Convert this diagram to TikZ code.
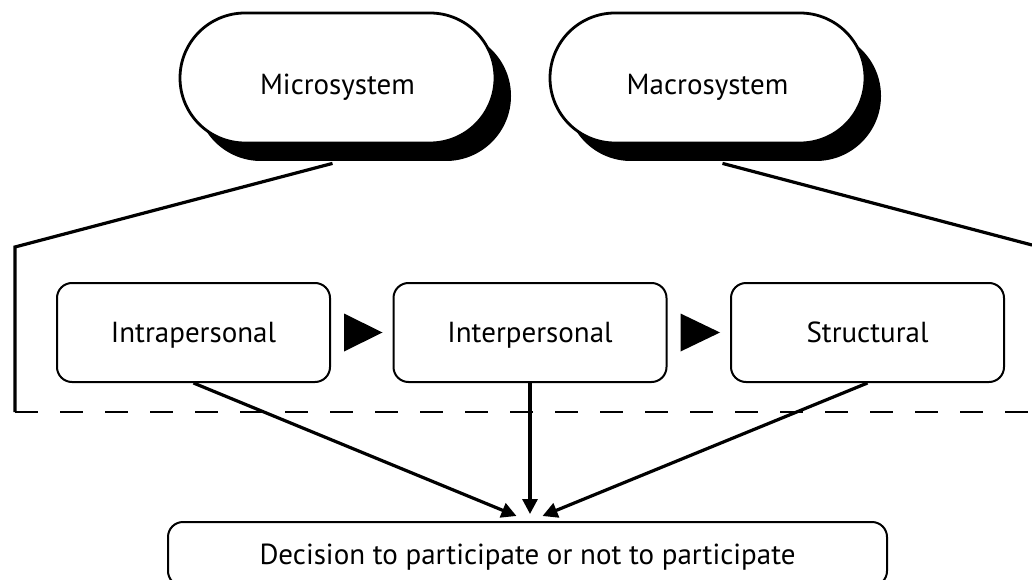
\documentclass[tikz,border=0pt]{standalone}
\usepackage{fontspec}
\setmainfont{PT Sans}
\usepackage{tikz}
\usetikzlibrary{arrows.meta,shadows,calc}

\tikzset{
  sysbox/.style={draw, line width=2.8pt, fill=white, rounded corners=65pt,
    minimum width=315pt, minimum height=130pt, text height=34pt, text depth=0pt,
    drop shadow={shadow xshift=16pt, shadow yshift=-18pt, fill=black, opacity=1}},
  levelbox/.style={draw, line width=2pt, rounded corners=15pt,
    minimum width=273pt, minimum height=99pt, text height=20pt, text depth=0pt},
  flow/.style={line width=3.2pt, -{Triangle[length=15pt,width=15pt]}},
  link/.style={line width=3.2pt, line join=miter}
}

\begin{document}
\begin{tikzpicture}[x=1pt, y=-1pt, font=\fontsize{29}{34}\selectfont]
			\useasboundingbox (0,0) rectangle (1032,580);
			% outer systems
			\node[sysbox] (micro) at (337.5,78) {Microsystem};
			\node[sysbox] (macro) at (707.5,78) {Macrosystem};
			% the three levels
			\node[levelbox] (intra) at (193.5,332.5) {Intrapersonal};
			\node[levelbox] (inter) at (530,332.5) {Interpersonal};
			\node[levelbox] (struct) at (867.5,332.5) {Structural};
			\node[levelbox, minimum width=719pt, minimum height=64pt] (dec) at (527.5,554)
			  {Decision to participate or not to participate};
			% frame
			\coordinate (lcorner) at (15,247);
			\coordinate (lfoot) at (15,412);
			\coordinate (rcorner) at (1032,245);
			\coordinate (rfoot) at (1032,412);
			\draw[link] ($(micro.south)+(-5,19)$) -- (lcorner) -- (lfoot);
			\draw[link] ($(macro.south)+(15,19)$) -- (rcorner);
			\draw[line width=2.2pt, dash pattern=on 23pt off 22pt] (lfoot) -- (rfoot);
			% arrows between levels
			\foreach \a/\b in {intra/inter, inter/struct}
				\fill ($(\a.east)+(13,-19)$) -- ($(\b.west)+(-10,0)$) -- ($(\a.east)+(13,19)$) -- cycle;
			% to the decision
			\draw[flow] (intra.south) -- ($(dec.north)+(-11,-5)$);
			\draw[flow] (inter.south) -- ($(dec.north)+(2.5,-7)$);
			\draw[flow] (struct.south) -- ($(dec.north)+(15,-5)$);
		\end{tikzpicture}
\end{document}
